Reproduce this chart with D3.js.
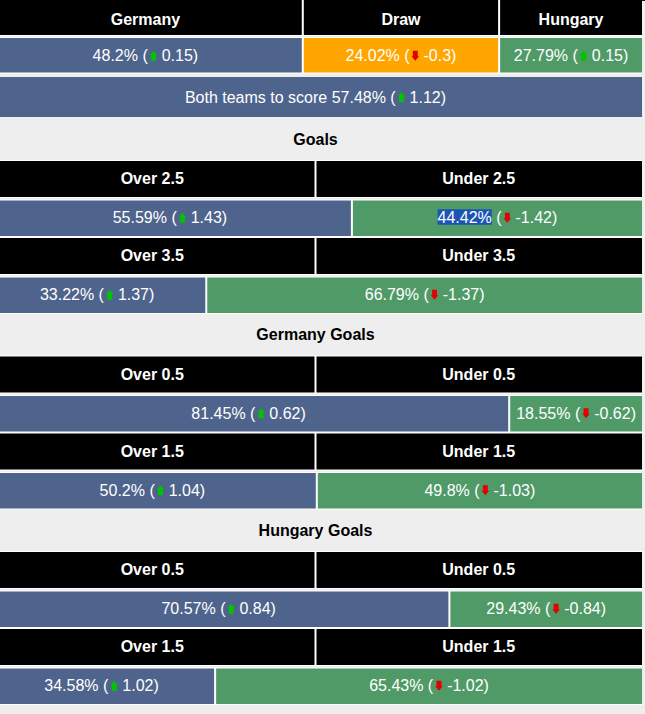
<!DOCTYPE html>
<html><head><meta charset="utf-8">
<script src="https://cdn.jsdelivr.net/npm/d3@7"></script>
<style>html,body{margin:0;padding:0;background:#eeeeee;overflow:hidden}</style>
</head><body><svg id="c" width="645" height="714"></svg>
<script>
// ---------- data ----------
const matchLabels = ["Germany", "Draw", "Hungary"];
const matchProbs = [48.2, 24.02, 27.79];
const matchChanges = [0.15, -0.3, 0.15];
const bttsLabel = "Both teams to score";
const bttsProb = 57.48;
const bttsChange = 1.12;
const sectionTitles = ["Goals", "Germany Goals", "Hungary Goals"];
const lineValues = ["2.5", "3.5", "0.5", "1.5", "0.5", "1.5"];
const overProbs = [55.59, 33.22, 81.45, 50.2, 70.57, 34.58];
const overChanges = [1.43, 1.37, 0.62, 1.04, 0.84, 1.02];
const underProbs = [44.42, 66.79, 18.55, 49.8, 29.43, 65.43];
const underChanges = [-1.42, -1.37, -0.62, -1.03, -0.84, -1.02];
const selectedText = { market: 0, side: "under" }; // text shown as selected

// ---------- layout / style ----------
const LEFT = -11, RIGHT = 642, GAP = 2;
const BLUE = "#4f648c", GREEN = "#509a68", ORANGE = "#ffa500", BLACK = "#000000";
const FONT = "'Liberation Sans', Arial, sans-serif";
const DRAW_SHARE = 0.578; // layout share of the non-home remainder for the Draw column

const svg = d3.select("#c");
const x = d3.scaleLinear().domain([0, 100]).range([0, RIGHT - LEFT - GAP]);

// thin top border strip
svg.append("rect").attr("x", 0).attr("y", 0).attr("width", 645).attr("height", 1).attr("fill", "#0c260c");
svg.append("rect").attr("x", 95).attr("y", 0).attr("width", 72).attr("height", 1).attr("fill", "#3d7a1d");

const measurer = svg.append("text").attr("font-family", FONT).attr("font-size", 16)
  .attr("visibility", "hidden").style("white-space", "pre");
function textW(s, bold) {
  measurer.attr("font-weight", bold ? "bold" : "normal").text(s);
  return measurer.node().getComputedTextLength();
}

function band(y, h) {
  svg.append("rect").attr("x", LEFT).attr("y", y - 1).attr("width", RIGHT - LEFT).attr("height", h + 2).attr("fill", "#ffffff");
}
function cell(x0, x1, y, h, fill) {
  svg.append("rect").attr("x", x0).attr("y", y).attr("width", x1 - x0).attr("height", h).attr("fill", fill);
}
function headerText(cx, y, h, s, off) {
  svg.append("text").attr("x", cx).attr("y", y + h / 2 + off).attr("text-anchor", "middle")
    .attr("font-family", FONT).attr("font-size", 16).attr("font-weight", "bold").attr("fill", "#fff").text(s);
}
const ARROW_GAP = 2, ARROW_BODY = 7.5, SPACE_W = 4.45;
function arrowPath(ax, ay, up) {
  // house-shaped arrow, 7.5 wide, 10 tall
  const pts = up
    ? [[3.75, 0], [7.5, 4.5], [6.2, 4.5], [6.2, 10], [1.3, 10], [1.3, 4.5], [0, 4.5]]
    : [[3.75, 10], [7.5, 5.5], [6.2, 5.5], [6.2, 0], [1.3, 0], [1.3, 5.5], [0, 5.5]];
  return "M" + pts.map(p => (ax + p[0]).toFixed(2) + "," + (ay + p[1]).toFixed(2)).join("L") + "Z";
}
function valueLabel(cx, y, h, prefix, p, ch, selected, off) {
  const pre = (prefix ? prefix + " " : "") + p + "% (";
  const post = ch + ")";
  const w1 = textW(pre), w2 = textW(post);
  const total = w1 + ARROW_GAP + ARROW_BODY + SPACE_W + w2;
  const base = y + h / 2 + off;
  const g = svg.append("g").attr("transform", `translate(${cx - total / 2},0)`);
  if (selected) {
    g.append("rect").attr("x", 0).attr("y", base - 14).attr("width", textW(p + "%"))
      .attr("height", 15.5).attr("fill", "#1b55b3");
  }
  g.append("text").attr("x", 0).attr("y", base).attr("font-family", FONT).attr("font-size", 16)
    .attr("fill", "#fff").text(pre);
  const up = ch > 0;
  g.append("path").attr("d", arrowPath(w1 + ARROW_GAP, base - 10.5, up))
    .attr("fill", up ? "#00c400" : "#e40000");
  g.append("text").attr("x", w1 + ARROW_GAP + ARROW_BODY + SPACE_W).attr("y", base)
    .attr("font-family", FONT).attr("font-size", 16).attr("fill", "#fff").text(post);
}
function labelWidth(p, ch) {
  return textW(p + "% (") + ARROW_GAP + ARROW_BODY + SPACE_W + textW(ch + ")");
}

// ---------- 1X2 table ----------
const topHeaderY = 0, topHeaderH = 35, topValY = 38, topValH = 34.5;
const homeW = x(matchProbs[0]) - GAP / 2;
const restW = (RIGHT - LEFT - 2 * GAP) - homeW;
const drawW = restW * DRAW_SHARE;
const colX = [LEFT, LEFT + homeW + GAP, LEFT + homeW + GAP + drawW + GAP];
const colX1 = [LEFT + homeW, LEFT + homeW + GAP + drawW, RIGHT];
const topFills = [BLUE, ORANGE, GREEN];
band(topHeaderY, topHeaderH);
band(topValY, topValH);
matchLabels.forEach((lab, i) => {
  cell(colX[i], colX1[i], topHeaderY, topHeaderH, BLACK);
  headerText((colX[i] + colX1[i]) / 2, topHeaderY, topHeaderH, lab, 7);
  cell(colX[i], colX1[i], topValY, topValH, topFills[i]);
  valueLabel((colX[i] + colX1[i]) / 2, topValY, topValH, "", matchProbs[i], matchChanges[i], false, 6);
});

// ---------- BTTS ----------
const bttsY = 77, bttsH = 40;
cell(LEFT, RIGHT, bttsY, bttsH, BLUE);
valueLabel((LEFT + RIGHT) / 2, bttsY, bttsH, bttsLabel, bttsProb, bttsChange, false, 5.5);

// ---------- over / under sections ----------
const secStart = 117.5, secH = 195.5, titleH = 43.5, hdrH = 36, valOff = 39.5, valH = 35.5, pairH = 77;
const mid = LEFT + (RIGHT - LEFT) / 2;
sectionTitles.forEach((title, s) => {
  const sy = secStart + s * secH;
  svg.append("text").attr("x", mid).attr("y", sy + titleH / 2 + 5.5).attr("text-anchor", "middle")
    .attr("font-family", FONT).attr("font-size", 16).attr("font-weight", "bold").attr("fill", "#000").text(title);
  [0, 1].forEach(k => {
    const m = s * 2 + k;
    const hy = sy + titleH + k * pairH;
    band(hy, hdrH);
    cell(LEFT, mid - GAP / 2, hy, hdrH, BLACK);
    cell(mid + GAP / 2, RIGHT, hy, hdrH, BLACK);
    headerText((LEFT + mid) / 2, hy, hdrH, "Over " + lineValues[m], 5);
    headerText((mid + RIGHT) / 2, hy, hdrH, "Under " + lineValues[m], 5);
    const vy = hy + valOff;
    band(vy, valH);
    const minO = labelWidth(overProbs[m], overChanges[m]) + 12;
    const minU = labelWidth(underProbs[m], underChanges[m]) + 12;
    const avail = RIGHT - LEFT - GAP;
    let bw = Math.max(x(overProbs[m]), minO);
    bw = Math.min(bw, avail - minU);
    const b1 = LEFT + bw, g0 = b1 + GAP;
    cell(LEFT, b1, vy, valH, BLUE);
    cell(g0, RIGHT, vy, valH, GREEN);
    valueLabel((LEFT + b1) / 2, vy, valH, "", overProbs[m], overChanges[m],
      selectedText.market === m && selectedText.side === "over", 5);
    valueLabel((g0 + RIGHT) / 2, vy, valH, "", underProbs[m], underChanges[m],
      selectedText.market === m && selectedText.side === "under", 5);
  });
});
measurer.remove();
</script></body></html>
